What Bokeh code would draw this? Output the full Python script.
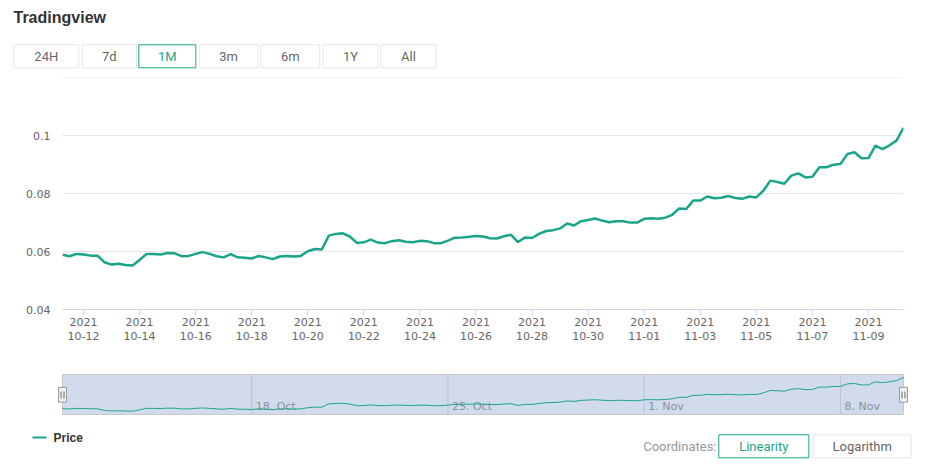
import pandas as pd
from bokeh.plotting import figure
from bokeh.layouts import column
from bokeh.models import Range1d, FixedTicker, CustomJSTickFormatter
from bokeh.core.properties import value
from bokeh.embed import file_html
from bokeh.resources import INLINE

# ---------------- data ----------------
title_text = "Tradingview"
series_name = "Price"
start_time = "2021-10-11 06:00"
step = "6h"
prices = [
    0.0589, 0.0584, 0.0592, 0.0590, 0.0586, 0.0586, 0.0563, 0.0555, 0.0558, 0.0554, 0.0552,
    0.0571, 0.0592, 0.0592, 0.0590, 0.0595, 0.0594, 0.0584, 0.0585, 0.0592, 0.0598,
    0.0592, 0.0584, 0.0580, 0.0591, 0.0580, 0.0579, 0.0576, 0.0585, 0.0580, 0.0574,
    0.0583, 0.0585, 0.0583, 0.0585, 0.0601, 0.0609, 0.0607, 0.0655, 0.0661, 0.0663,
    0.0652, 0.0630, 0.0632, 0.0641, 0.0631, 0.0629, 0.0636, 0.0639, 0.0634, 0.0632,
    0.0637, 0.0636, 0.0629, 0.0629, 0.0638, 0.0648, 0.0649, 0.0651, 0.0654, 0.0652,
    0.0646, 0.0645, 0.0653, 0.0658, 0.0633, 0.0649, 0.0647, 0.0661, 0.0671, 0.0674,
    0.0680, 0.0697, 0.0690, 0.0705, 0.0709, 0.0714, 0.0707, 0.0701, 0.0705, 0.0705,
    0.0700, 0.0700, 0.0713, 0.0715, 0.0713, 0.0717, 0.0727, 0.0749, 0.0747, 0.0776,
    0.0776, 0.0790, 0.0784, 0.0786, 0.0792, 0.0785, 0.0782, 0.0790, 0.0787, 0.0810,
    0.0845, 0.0840, 0.0834, 0.0862, 0.0870, 0.0856, 0.0858, 0.0891, 0.0891, 0.0900,
    0.0902, 0.0937, 0.0943, 0.0922, 0.0923, 0.0966, 0.0954, 0.0967, 0.0983, 0.1027,
]
x_tick_dates = ["2021-10-12", "2021-10-14", "2021-10-16", "2021-10-18", "2021-10-20",
                "2021-10-22", "2021-10-24", "2021-10-26", "2021-10-28", "2021-10-30",
                "2021-11-01", "2021-11-03", "2021-11-05", "2021-11-07", "2021-11-09"]
y_ticks = [0.04, 0.06, 0.08, 0.1]
y_grid = [0.06, 0.08, 0.1, 0.12]
y_min, y_max = 0.04, 0.1201
nav_week_dates = ["2021-10-18", "2021-10-25", "2021-11-01", "2021-11-08"]
nav_week_labels = ["18. Oct", "25. Oct", "1. Nov", "8. Nov"]
range_buttons = ["24H", "7d", "1M", "3m", "6m", "1Y", "All"]
active_button = "1M"
coord_label = "Coordinates:"
coord_buttons = ["Linearity", "Logarithm"]
active_coord = "Linearity"

# ---------------- styles ----------------
TEAL = "#1aa58a"
W = 941
FRAME_L, FRAME_R = 62, 903
HDR_H = 70
times = pd.date_range(start_time, periods=len(prices), freq=step)
xs = (times.asi8 // 10**6).tolist()
t0, t1 = xs[0], xs[-1]
mpp = (t1 - t0) / (FRAME_R - FRAME_L)  # ms per pixel

def ms(d):
    return int(pd.Timestamp(d).value // 10**6)

def blank(height, xr, yr):
    f = figure(width=W, height=height, x_range=xr, y_range=yr,
               x_axis_location=None, y_axis_location=None, min_border=0,
               output_backend="svg", toolbar_location=None)
    f.frame_align = False
    f.grid.visible = False
    f.outline_line_color = None
    return f

# ---------------- header ----------------
hdr = blank(HDR_H, Range1d(0, W), Range1d(HDR_H, 0))
hdr.text(x=[13], y=[17], text=[title_text], text_font=value("Liberation Sans"),
         text_font_style="bold", text_font_size="16px", text_color="#333333",
         text_baseline="middle", text_align="left")
btn_left = [13.3, 81.7, 138.3, 198.7, 260.3, 322.7, 380.3]
btn_right = [78.3, 136.0, 195.3, 257.3, 319.3, 377.3, 435.7]
for lab, l, r in zip(range_buttons, btn_left, btn_right):
    act = lab == active_button
    hdr.quad(left=[l], right=[r], top=[44.3], bottom=[67.3], fill_color="white",
             line_color=TEAL if act else "#e6e6e6", line_width=1)
    hdr.text(x=[(l + r) / 2], y=[56], text=[lab], text_font=value("Roboto"),
             text_font_size="13px", text_color=TEAL if act else "#666666",
             text_baseline="middle", text_align="center")

# ---------------- main chart ----------------
p = figure(width=W, height=360 - HDR_H, x_axis_type="datetime",
           x_range=Range1d(t0, t1), y_range=Range1d(y_min, y_max),
           min_border_left=FRAME_L, min_border_right=W - FRAME_R,
           min_border_top=77 - HDR_H, min_border_bottom=51,
           output_backend="svg", toolbar_location=None)
p.frame_align = False
p.outline_line_color = None
p.line(xs, prices, line_color=TEAL, line_width=2.5)
p.xgrid.visible = False
p.ygrid.ticker = FixedTicker(ticks=y_grid)
p.ygrid.grid_line_color = "#e6e6e6"
p.yaxis.ticker = FixedTicker(ticks=y_ticks)
p.yaxis.formatter = CustomJSTickFormatter(code="return String(+tick.toFixed(2));")
p.yaxis.axis_line_color = None
p.yaxis.major_tick_line_color = None
p.yaxis.minor_tick_line_color = None
p.yaxis.major_label_standoff = 6
p.xaxis.ticker = FixedTicker(ticks=[ms(d) for d in x_tick_dates])
p.xaxis.formatter = CustomJSTickFormatter(code="""
const d = new Date(tick);
const m = String(d.getUTCMonth() + 1).padStart(2, '0');
const dd = String(d.getUTCDate()).padStart(2, '0');
return d.getUTCFullYear() + "\\n" + m + "-" + dd;
""")
p.xaxis.axis_line_color = "#ccd6eb"
p.xaxis.major_tick_line_color = "#ccd6eb"
p.xaxis.major_tick_out = 6
p.xaxis.major_tick_in = 0
p.xaxis.minor_tick_line_color = None
p.xaxis.major_label_standoff = 0
for ax in (p.xaxis, p.yaxis):
    ax.major_label_text_font = "DejaVu Sans"
    ax.major_label_text_font_size = "11px"
    ax.major_label_text_color = "#666666"
p.xaxis.major_label_text_line_height = 1.1

# ---------------- navigator ----------------
vmin, vmax = min(prices), max(prices)
span = vmax - vmin
nav_lo = vmin - 0.098 * span
nav_hi = vmax + 0.089 * span
nh = nav_hi - nav_lo
nav = blank(60, Range1d(t0 - FRAME_L * mpp, t0 + (W - FRAME_L) * mpp),
            Range1d(nav_lo - 6 / 40 * nh, nav_hi + 14 / 40 * nh))
nav.quad(left=[t0], right=[t1], bottom=[nav_lo], top=[nav_hi],
         fill_color="#d2dbec", line_color="#c8c8c8", line_width=1)
wk = [ms(d) for d in nav_week_dates]
nav.segment(x0=wk, x1=wk, y0=[nav_lo] * len(wk), y1=[nav_hi] * len(wk),
            line_color="#b9c3d6", line_width=1)
nav.text(x=[w + 4 * mpp for w in wk], y=[nav_lo + 0.21 * nh] * len(wk), text=nav_week_labels,
         text_font=value("DejaVu Sans"), text_font_size="11px", text_color="#8a8f99",
         text_baseline="middle", text_align="left")
nav.line(xs, prices, line_color=TEAL, line_width=1)
for t in (t0, t1):
    nav.quad(left=[t - 4 * mpp], right=[t + 4 * mpp],
             bottom=[nav_lo + 0.31 * nh], top=[nav_lo + 0.68 * nh],
             fill_color="#f2f2f2", line_color="#999999", line_width=1)
    nav.segment(x0=[t - 1.5 * mpp, t + 1.5 * mpp], x1=[t - 1.5 * mpp, t + 1.5 * mpp],
                y0=[nav_lo + 0.40 * nh] * 2, y1=[nav_lo + 0.575 * nh] * 2,
                line_color="#666666", line_width=1)

# ---------------- footer ----------------
ftr = blank(56, Range1d(0, W), Range1d(56, 0))
ftr.line([32, 46], [17, 17], line_color=TEAL, line_width=2)
ftr.text(x=[53], y=[17.7], text=[series_name], text_font=value("Liberation Sans"),
         text_font_style="bold", text_font_size="12px", text_color="#333333",
         text_baseline="middle", text_align="left")
ftr.text(x=[716], y=[25.8], text=[coord_label], text_font=value("Roboto"),
         text_font_size="13px", text_color="#999999", text_baseline="middle", text_align="right")
cb_left = [718.3, 812.7]
cb_right = [808.3, 910.7]
for lab, l, r in zip(coord_buttons, cb_left, cb_right):
    act = lab == active_coord
    ftr.quad(left=[l], right=[r], top=[14.3], bottom=[37.3], fill_color="white",
             line_color=TEAL if act else "#e6e6e6", line_width=1)
    ftr.text(x=[(l + r) / 2], y=[26], text=[lab], text_font=value("Roboto"),
             text_font_size="13px", text_color=TEAL if act else "#666666",
             text_baseline="middle", text_align="center")

layout = column(hdr, p, nav, ftr, spacing=0)
open("out.html", "w").write(file_html(layout, INLINE))
